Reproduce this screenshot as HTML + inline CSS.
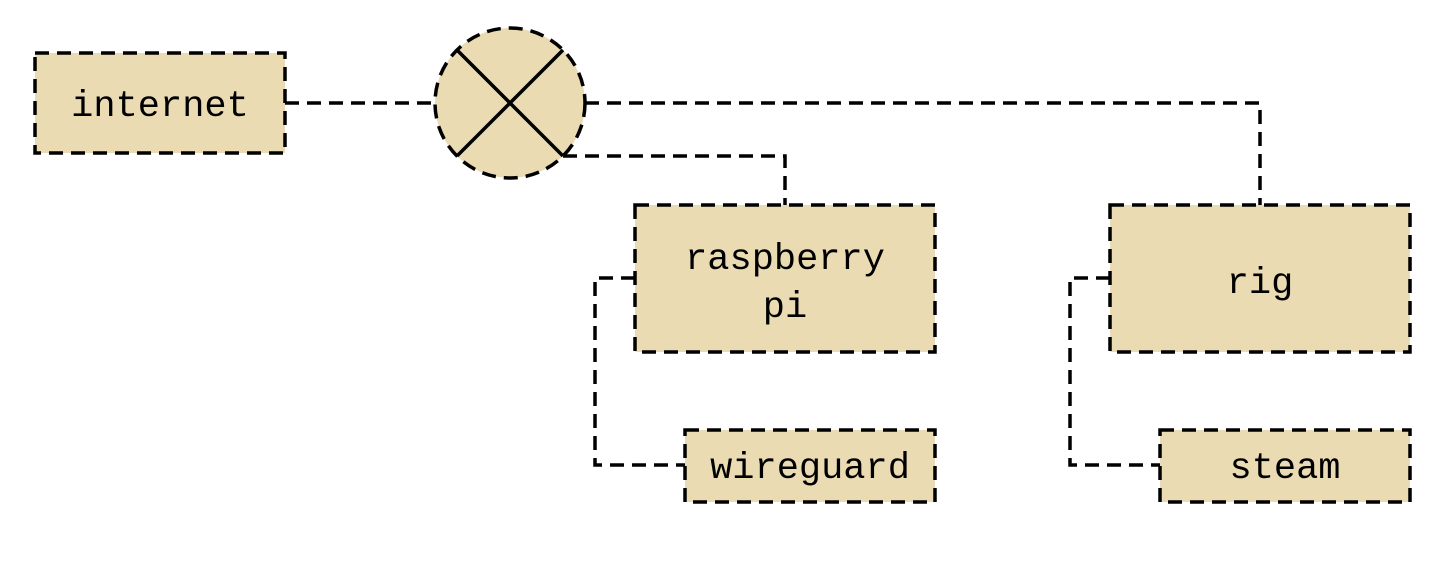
<!DOCTYPE html>
<html><head><style>
html,body{margin:0;padding:0;background:#fff;}
svg text{font-family:"Liberation Mono",monospace;font-size:37px;fill:#000;}
</style></head><body>
<svg width="1452" height="562" viewBox="0 0 1452 562" xmlns="http://www.w3.org/2000/svg">
<g fill="none" stroke="#000" stroke-width="3.5" stroke-dasharray="14,8">
<path d="M285,103 H435"/>
<path d="M585,103 H1260 V205"/>
<path d="M563,156 H785 V205"/>
<path d="M635,278 H595 V465 H685"/>
<path d="M1110,278 H1070 V465 H1160"/>
</g>
<g fill="#eadbb3" stroke="#000" stroke-width="3.5" stroke-dasharray="14,8">
<rect x="35" y="53" width="250" height="100"/>
<ellipse cx="510" cy="103" rx="75" ry="75"/>
<rect x="635" y="205" width="300" height="147"/>
<rect x="1110" y="205" width="300" height="147"/>
<rect x="685" y="430" width="250" height="72"/>
<rect x="1160" y="430" width="250" height="72"/>
</g>
<g stroke="#000" stroke-width="3.5">
<line x1="457" y1="50" x2="563" y2="156"/>
<line x1="563" y1="50" x2="457" y2="156"/>
</g>
<g text-anchor="middle">
<text x="160" y="116">internet</text>
<text x="785" y="269">raspberry</text>
<text x="785" y="317">pi</text>
<text x="1260" y="293">rig</text>
<text x="810" y="478">wireguard</text>
<text x="1285" y="478">steam</text>
</g>
</svg>
</body></html>
